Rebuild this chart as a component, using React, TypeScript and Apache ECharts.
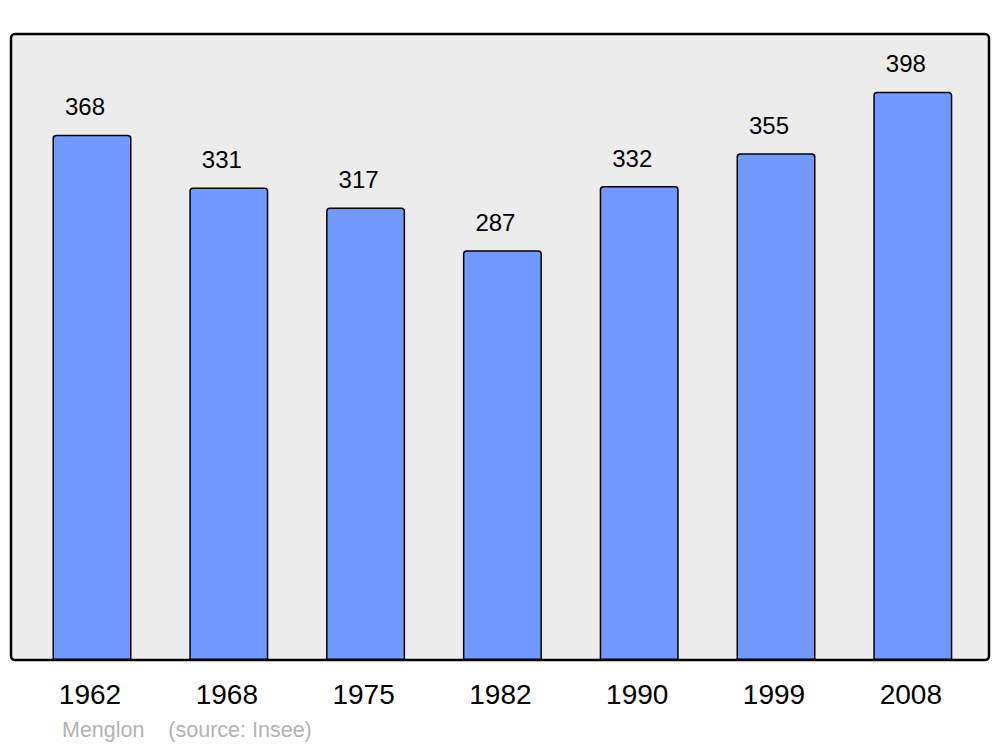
import React, { useEffect, useRef } from "react";
import * as echarts from "echarts";

const years = ["1962", "1968", "1975", "1982", "1990", "1999", "2008"];
const population = [368, 331, 317, 287, 332, 355, 398];
const caption = "Menglon    (source: Insee)";

export default function App() {
  const ref = useRef<HTMLDivElement>(null);
  useEffect(() => {
    if (!ref.current) return;
    const chart = echarts.init(ref.current, null, { renderer: "svg" });
    chart.setOption({
      animation: false,
      backgroundColor: "#ffffff",
      textStyle: { fontFamily: "Liberation Sans, Arial, sans-serif" },
      graphic: [
        {
          type: "rect",
          z: -10,
          silent: true,
          shape: { x: 11, y: 34, width: 978, height: 626, r: 4 },
          style: { fill: "#ececec", stroke: "#000000", lineWidth: 2.5 },
        },
        {
          type: "text",
          left: 62,
          top: 719,
          style: {
            text: caption,
            fill: "#b3b3b3",
            fontSize: 21.5,
            fontFamily: "Liberation Sans, Arial, sans-serif",
          },
        },
      ],
      grid: { left: 23.6, top: 34, width: 957.6, height: 626 },
      xAxis: {
        type: "category",
        data: years,
        boundaryGap: true,
        axisLine: { show: false },
        axisTick: { show: false },
        axisLabel: {
          color: "#000000",
          fontSize: 28,
          margin: 20,
          padding: [0, 4, 0, 0],
          fontFamily: "Liberation Sans, Arial, sans-serif",
        },
      },
      yAxis: {
        type: "value",
        min: 0,
        max: 438.5,
        show: false,
        splitLine: { show: false },
      },
      series: [
        {
          type: "bar",
          data: population,
          barWidth: 79,
          itemStyle: {
            color: "#7299ff",
            borderColor: "#000000",
            borderWidth: 1.5,
            borderRadius: [3, 3, 0, 0],
          },
          label: {
            show: true,
            position: "top",
            distance: 16,
            offset: [-7, 0],
            color: "#000000",
            fontSize: 24,
            fontFamily: "Liberation Sans, Arial, sans-serif",
          },
        },
      ],
    });
    return () => chart.dispose();
  }, []);
  return (
    <div
      ref={ref}
      style={{ position: "fixed", left: 0, top: 0, width: 1000, height: 747 }}
    />
  );
}
